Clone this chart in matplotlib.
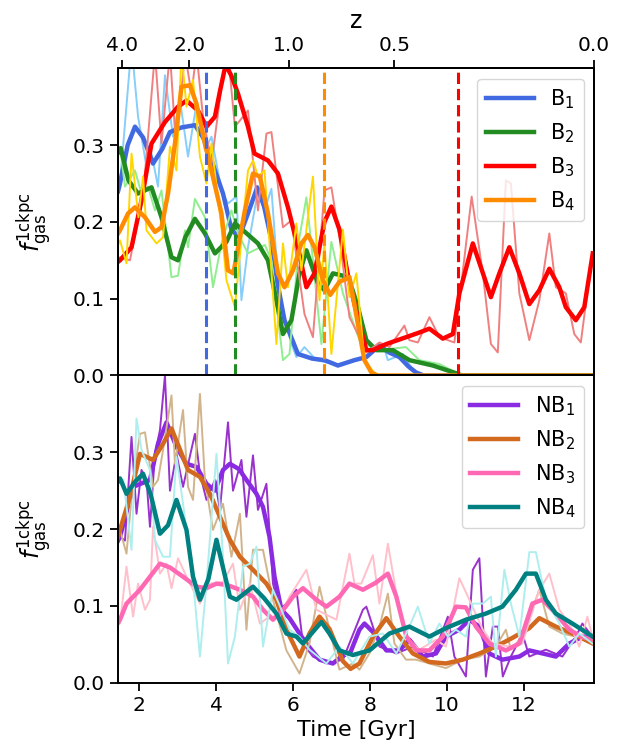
import numpy as np
import matplotlib
matplotlib.use("Agg")
import matplotlib.pyplot as plt

# ---- time axis / cosmology (flat LCDM) for the redshift ticks ----
H0 = 67.7
OM = 0.307
Z_TICKS = [4.0, 2.0, 1.0, 0.5, 0.0]


def age_gyr(z):
    ol = 1.0 - OM
    t_h = 977.8 / H0
    x = np.sqrt(ol / OM) * (1.0 + np.asarray(z)) ** -1.5
    return t_h * 2.0 / (3.0 * np.sqrt(ol)) * np.arcsinh(x)


# ---- barred galaxies: raw (thin) ----
b1_raw_t = [1.45, 1.50, 1.80, 1.97, 2.19, 2.32, 2.49, 2.67, 2.88, 3.06, 3.27, 3.49, 3.71,
            3.88, 4.14, 4.31, 4.53, 4.66, 4.83, 5.09, 5.26, 5.44, 5.65, 5.96, 6.09, 6.30,
            6.61, 7.21, 7.91, 8.34, 8.47, 8.86, 9.12, 9.30, 13.8]
b1_raw_v = [0.24, 0.25, 0.43, 0.337, 0.272, 0.289, 0.246, 0.391, 0.311, 0.359, 0.285, 0.354,
            0.293, 0.311, 0.241, 0.224, 0.233, 0.098, 0.167, 0.241, 0.215, 0.243, 0.098,
            0.041, 0.024, 0.037, 0.020, 0.013, 0.024, 0.041, 0.020, 0.028, 0.007, 0.0, 0.0]

b2_raw_t = [1.45, 1.50, 1.63, 1.89, 2.06, 2.23, 2.41, 2.58, 2.84, 3.01, 3.19, 3.27, 3.45,
            3.71, 3.92, 4.14, 4.40, 4.57, 4.83, 5.27, 5.44, 5.74, 5.91, 6.17, 6.35, 6.52,
            6.74, 7.00, 7.30, 7.73, 8.17, 8.60, 8.94, 9.29, 9.81, 10.24, 10.40, 13.8]
b2_raw_v = [0.29, 0.298, 0.246, 0.267, 0.237, 0.246, 0.215, 0.241, 0.128, 0.130, 0.189,
            0.167, 0.230, 0.206, 0.115, 0.172, 0.215, 0.185, 0.159, 0.170, 0.150, 0.020,
            0.028, 0.180, 0.232, 0.150, 0.041, 0.174, 0.107, 0.046, 0.033, 0.035, 0.037,
            0.020, 0.015, 0.004, 0.0, 0.0]

b3_raw_t = [1.45, 1.50, 1.76, 1.98, 2.15, 2.41, 2.58, 2.80, 2.93, 3.06, 3.19, 3.36, 3.49,
            3.66, 3.88, 4.14, 4.31, 4.49, 4.83, 5.09, 5.31, 5.44, 5.74, 5.96, 6.30, 6.52,
            6.82, 7.00, 7.21, 7.47, 7.73, 7.91, 8.25, 8.51, 8.90, 9.03, 9.25, 9.55, 9.81,
            10.20, 10.33, 10.65, 10.94, 11.15, 11.33, 11.54, 11.67, 11.89, 12.15, 12.41,
            12.67, 12.84, 13.10, 13.32, 13.49, 13.79]
b3_raw_v = [0.15, 0.154, 0.150, 0.206, 0.263, 0.42, 0.302, 0.42, 0.319, 0.350, 0.42, 0.367,
            0.42, 0.337, 0.276, 0.376, 0.42, 0.324, 0.345, 0.215, 0.315, 0.317, 0.193, 0.202,
            0.080, 0.050, 0.241, 0.245, 0.180, 0.076, 0.050, 0.030, 0.043, 0.037, 0.065,
            0.046, 0.043, 0.076, 0.050, 0.043, 0.098, 0.233, 0.133, 0.041, 0.030, 0.254,
            0.250, 0.107, 0.046, 0.098, 0.185, 0.115, 0.107, 0.054, 0.043, 0.159]

b4_raw_t = [1.45, 1.50, 1.67, 1.80, 1.98, 2.10, 2.19, 2.45, 2.62, 2.80, 2.97, 3.10, 3.23,
            3.40, 3.58, 3.75, 3.88, 4.14, 4.27, 4.49, 4.83, 4.96, 5.09, 5.26, 5.57, 5.74,
            5.87, 6.09, 6.22, 6.52, 6.69, 6.82, 7.00, 7.30, 7.47, 7.65, 7.86, 8.17, 13.8]
b4_raw_v = [0.17, 0.176, 0.146, 0.289, 0.206, 0.259, 0.189, 0.172, 0.180, 0.298, 0.267,
            0.42, 0.350, 0.385, 0.285, 0.250, 0.302, 0.193, 0.124, 0.089, 0.267, 0.280,
            0.259, 0.267, 0.041, 0.172, 0.115, 0.198, 0.137, 0.259, 0.098, 0.172, 0.028,
            0.190, 0.102, 0.133, 0.020, 0.0, 0.0]

# ---- barred galaxies: smoothed (thick) ----
b1_t = [1.45, 1.50, 1.70, 1.89, 2.10, 2.36, 2.60, 2.80, 3.10, 3.45, 3.66, 3.75, 3.95, 4.18,
        4.40, 4.60, 4.83, 5.07, 5.25, 5.44, 5.60, 5.78, 6.13, 6.50, 6.82, 7.17, 7.60, 7.91,
        8.25, 8.50, 8.77, 9.00, 9.20, 9.40, 13.8]
b1_v = [0.24, 0.25, 0.30, 0.324, 0.31, 0.276, 0.295, 0.317, 0.323, 0.326, 0.31, 0.30, 0.27,
        0.237, 0.19, 0.18, 0.211, 0.245, 0.22, 0.176, 0.12, 0.072, 0.028, 0.022, 0.02,
        0.013, 0.02, 0.024, 0.039, 0.03, 0.024, 0.012, 0.004, 0.0, 0.0]

b2_t = [1.45, 1.52, 1.72, 1.97, 2.32, 2.58, 2.84, 3.01, 3.20, 3.45, 3.71, 3.97, 4.27, 4.49,
        4.75, 5.09, 5.35, 5.57, 5.74, 5.96, 6.17, 6.35, 6.65, 6.82, 7.04, 7.30, 7.47, 7.69,
        7.91, 8.17, 8.60, 9.03, 9.64, 10.24, 10.40, 13.8]
b2_v = [0.29, 0.296, 0.254, 0.237, 0.245, 0.206, 0.154, 0.150, 0.18, 0.204, 0.185, 0.159,
        0.174, 0.198, 0.187, 0.172, 0.15, 0.098, 0.054, 0.072, 0.133, 0.163, 0.12, 0.111,
        0.133, 0.13, 0.124, 0.089, 0.046, 0.033, 0.033, 0.02, 0.013, 0.003, 0.0, 0.0]

b3_t = [1.45, 1.50, 1.80, 2.06, 2.32, 2.67, 3.01, 3.23, 3.53, 3.75, 3.97, 4.10, 4.25, 4.40,
        4.57, 4.83, 5.00, 5.35, 5.61, 5.87, 6.13, 6.35, 6.56, 6.82, 7.00, 7.21, 7.47, 7.73,
        7.91, 8.08, 8.43, 8.95, 9.29, 9.55, 9.90, 10.16, 10.33, 10.68, 10.89, 11.15, 11.37,
        11.63, 11.89, 12.15, 12.41, 12.67, 12.93, 13.10, 13.36, 13.58, 13.8]
b3_v = [0.148, 0.15, 0.167, 0.228, 0.302, 0.33, 0.35, 0.358, 0.345, 0.324, 0.337, 0.37,
        0.405, 0.39, 0.367, 0.324, 0.289, 0.28, 0.263, 0.219, 0.167, 0.115, 0.133, 0.200,
        0.22, 0.19, 0.12, 0.067, 0.033, 0.033, 0.041, 0.05, 0.056, 0.061, 0.048, 0.054,
        0.107, 0.172, 0.141, 0.102, 0.133, 0.167, 0.133, 0.093, 0.111, 0.139, 0.115, 0.089,
        0.072, 0.089, 0.159]

b4_t = [1.45, 1.50, 1.71, 1.89, 2.15, 2.41, 2.58, 2.75, 2.93, 3.10, 3.32, 3.49, 3.71, 3.88,
        4.14, 4.31, 4.45, 4.75, 4.96, 5.14, 5.35, 5.61, 5.78, 6.00, 6.22, 6.39, 6.56, 6.78,
        6.97, 7.21, 7.47, 7.69, 7.86, 8.04, 8.20, 13.8]
b4_v = [0.185, 0.189, 0.211, 0.219, 0.206, 0.187, 0.193, 0.237, 0.302, 0.376, 0.378, 0.354,
        0.302, 0.267, 0.211, 0.137, 0.133, 0.215, 0.263, 0.259, 0.211, 0.133, 0.115, 0.137,
        0.172, 0.183, 0.167, 0.124, 0.105, 0.122, 0.128, 0.067, 0.02, 0.004, 0.0, 0.0]

# ---- non-barred galaxies: raw (thin) ----
nb1_raw_t = [1.45, 1.50, 1.63, 1.80, 1.93, 2.06, 2.19, 2.28, 2.41, 2.54, 2.67, 2.80, 2.97,
             3.14, 3.45, 3.58, 3.75, 3.97, 4.10, 4.31, 4.44, 4.66, 4.79, 4.96, 5.09, 5.31,
             5.48, 5.65, 5.83, 6.09, 6.26, 6.52, 6.87, 7.30, 7.82, 7.91, 8.25, 8.69, 9.12,
             9.64, 10.03, 10.20, 10.50, 10.68, 10.85, 11.02, 11.20, 11.33, 11.46, 11.67,
             11.97, 12.15, 12.58, 13.01, 13.36, 13.53, 13.79]
nb1_raw_v = [0.185, 0.190, 0.185, 0.320, 0.220, 0.277, 0.264, 0.203, 0.298, 0.329, 0.40,
             0.250, 0.298, 0.255, 0.324, 0.272, 0.238, 0.264, 0.225, 0.339, 0.250, 0.290,
             0.216, 0.296, 0.225, 0.259, 0.129, 0.095, 0.103, 0.121, 0.051, 0.034, 0.025,
             0.030, 0.095, 0.099, 0.047, 0.038, 0.047, 0.034, 0.086, 0.034, 0.008, 0.147,
             0.162, 0.008, 0.073, 0.073, 0.008, 0.034, 0.064, 0.034, 0.043, 0.034, 0.060,
             0.077, 0.060]

nb2_raw_t = [1.45, 1.50, 1.67, 1.84, 2.02, 2.15, 2.36, 2.49, 2.62, 2.84, 2.93, 3.14, 3.27,
             3.40, 3.58, 3.71, 3.92, 4.18, 4.40, 4.62, 4.79, 4.96, 5.22, 5.48, 5.83, 6.17,
             6.43, 6.69, 6.95, 7.21, 7.56, 7.73, 7.99, 8.25, 8.47, 8.64, 8.94, 9.20, 9.55,
             9.98, 10.42, 10.85, 11.28, 11.54, 11.67, 11.97, 12.41, 12.67, 13.01, 13.36, 13.79]
nb2_raw_v = [0.20, 0.199, 0.168, 0.264, 0.324, 0.326, 0.255, 0.264, 0.303, 0.374, 0.285,
             0.355, 0.255, 0.238, 0.376, 0.264, 0.199, 0.233, 0.164, 0.220, 0.069, 0.173,
             0.173, 0.108, 0.042, 0.012, 0.051, 0.125, 0.069, 0.017, 0.025, 0.017, 0.038,
             0.073, 0.116, 0.051, 0.030, 0.030, 0.025, 0.019, 0.030, 0.034, 0.047, 0.069,
             0.043, 0.060, 0.121, 0.073, 0.064, 0.060, 0.051]

nb3_raw_t = [1.45, 1.50, 1.67, 1.84, 1.97, 2.15, 2.28, 2.36, 2.54, 2.71, 2.84, 3.01, 3.23,
             3.58, 3.84, 4.18, 4.44, 4.62, 4.88, 5.14, 5.39, 5.65, 5.91, 6.35, 6.61, 7.13,
             7.47, 7.60, 7.78, 8.08, 8.25, 8.47, 8.69, 8.94, 9.29, 9.72, 9.98, 10.33, 10.59,
             10.94, 11.20, 11.63, 11.97, 12.41, 12.67, 12.93, 13.19, 13.45, 13.66, 13.79]
nb3_raw_v = [0.08, 0.077, 0.151, 0.086, 0.129, 0.095, 0.108, 0.203, 0.142, 0.155, 0.123,
             0.162, 0.138, 0.103, 0.129, 0.131, 0.155, 0.095, 0.129, 0.077, 0.086, 0.086,
             0.112, 0.147, 0.095, 0.082, 0.168, 0.129, 0.129, 0.166, 0.103, 0.181, 0.116,
             0.060, 0.043, 0.056, 0.047, 0.136, 0.108, 0.069, 0.051, 0.047, 0.051, 0.121,
             0.142, 0.095, 0.077, 0.047, 0.086, 0.060]

nb4_raw_t = [1.45, 1.50, 1.59, 1.80, 1.93, 2.06, 2.28, 2.41, 2.62, 2.80, 2.97, 3.14, 3.40,
             3.58, 3.75, 4.01, 4.18, 4.31, 4.49, 4.70, 4.88, 5.05, 5.22, 5.48, 5.70, 5.91,
             6.17, 6.43, 6.87, 7.21, 7.56, 7.99, 8.34, 8.69, 9.03, 9.25, 9.55, 9.81, 10.03,
             10.24, 10.50, 10.68, 10.94, 11.15, 11.28, 11.50, 11.67, 11.89, 12.15, 12.32,
             12.58, 12.93, 13.19, 13.45, 13.79]
nb4_raw_v = [0.26, 0.264, 0.264, 0.173, 0.344, 0.303, 0.277, 0.186, 0.164, 0.164, 0.294,
             0.233, 0.134, 0.034, 0.129, 0.298, 0.164, 0.025, 0.060, 0.151, 0.155, 0.177,
             0.047, 0.121, 0.095, 0.069, 0.060, 0.043, 0.025, 0.047, 0.025, 0.060, 0.064,
             0.038, 0.073, 0.099, 0.051, 0.077, 0.060, 0.069, 0.060, 0.103, 0.103, 0.112,
             0.034, 0.147, 0.103, 0.060, 0.170, 0.170, 0.108, 0.077, 0.047, 0.064, 0.051]

# ---- non-barred galaxies: smoothed (thick) ----
nb1_t = [1.45, 1.50, 1.84, 2.28, 2.49, 2.71, 2.97, 3.23, 3.49, 3.75, 3.97, 4.18, 4.36, 4.60,
         4.79, 5.05, 5.22, 5.39, 5.52, 5.70, 5.91, 6.17, 6.35, 6.69, 7.04, 7.26, 7.50, 7.73,
         7.86, 8.12, 8.43, 8.77, 9.03, 9.38, 9.72, 9.98, 10.33, 10.59, 10.85, 11.11, 11.45,
         11.89, 12.15, 12.50, 12.84, 13.19, 13.53, 13.8]
nb1_v = [0.185, 0.19, 0.255, 0.264, 0.311, 0.339, 0.307, 0.285, 0.281, 0.259, 0.25, 0.277,
         0.285, 0.278, 0.264, 0.246, 0.229, 0.19, 0.138, 0.095, 0.084, 0.064, 0.051, 0.03,
         0.025, 0.034, 0.04, 0.069, 0.077, 0.064, 0.042, 0.042, 0.056, 0.034, 0.038, 0.06,
         0.069, 0.082, 0.073, 0.038, 0.03, 0.034, 0.042, 0.038, 0.034, 0.051, 0.06, 0.06]

nb2_t = [1.45, 1.50, 1.76, 2.02, 2.36, 2.62, 2.84, 3.05, 3.27, 3.58, 3.84, 4.10, 4.36, 4.62,
         4.96, 5.31, 5.57, 5.83, 6.17, 6.43, 6.69, 6.95, 7.30, 7.50, 7.73, 8.08, 8.43, 8.77,
         9.12, 9.55, 9.98, 10.42, 10.85, 11.28, 11.70, 12.15, 12.41, 12.84, 13.27, 13.8]
nb2_v = [0.19, 0.199, 0.242, 0.298, 0.29, 0.311, 0.331, 0.305, 0.277, 0.268, 0.246, 0.216,
         0.186, 0.164, 0.147, 0.129, 0.108, 0.069, 0.034, 0.064, 0.086, 0.07, 0.028, 0.018,
         0.025, 0.06, 0.084, 0.06, 0.038, 0.027, 0.025, 0.03, 0.038, 0.047, 0.058, 0.071,
         0.084, 0.073, 0.064, 0.051]

nb3_t = [1.45, 1.50, 1.67, 2.02, 2.28, 2.54, 2.80, 3.14, 3.49, 3.75, 4.01, 4.30, 4.62, 4.96,
         5.22, 5.48, 5.75, 6.00, 6.26, 6.61, 6.87, 7.21, 7.47, 7.82, 8.15, 8.47, 8.69, 8.95,
         9.21, 9.55, 9.90, 10.24, 10.50, 10.76, 11.11, 11.54, 11.89, 12.23, 12.49, 12.84,
         13.19, 13.50, 13.8]
nb3_v = [0.078, 0.082, 0.103, 0.121, 0.138, 0.155, 0.15, 0.138, 0.125, 0.123, 0.129, 0.127,
         0.121, 0.112, 0.095, 0.082, 0.095, 0.112, 0.123, 0.108, 0.099, 0.112, 0.129, 0.121,
         0.13, 0.142, 0.112, 0.06, 0.042, 0.042, 0.06, 0.099, 0.098, 0.073, 0.051, 0.042,
         0.051, 0.103, 0.108, 0.09, 0.069, 0.06, 0.056]

nb4_t = [1.45, 1.50, 1.67, 1.90, 2.10, 2.30, 2.54, 2.75, 2.97, 3.23, 3.40, 3.58, 3.80, 4.01,
         4.18, 4.36, 4.53, 4.96, 5.25, 5.57, 5.83, 6.09, 6.26, 6.50, 6.74, 6.95, 7.21, 7.56,
         7.99, 8.51, 9.03, 9.55, 9.98, 10.50, 11.02, 11.45, 11.80, 12.06, 12.32, 12.58,
         12.84, 13.27, 13.8]
nb4_v = [0.262, 0.266, 0.246, 0.262, 0.272, 0.245, 0.194, 0.205, 0.238, 0.199, 0.138, 0.108,
         0.135, 0.186, 0.15, 0.112, 0.108, 0.125, 0.11, 0.09, 0.064, 0.06, 0.051, 0.065,
         0.079, 0.064, 0.042, 0.036, 0.042, 0.064, 0.073, 0.06, 0.071, 0.082, 0.09, 0.099,
         0.121, 0.142, 0.142, 0.108, 0.09, 0.077, 0.06]

# bar formation time of B1..B4 (dashed lines)
bar_times = [3.75, 4.50, 10.30, 6.82]

top_sets = [
    (r"B$_1$", b1_raw_t, b1_raw_v, b1_t, b1_v, "lightskyblue", "royalblue"),
    (r"B$_2$", b2_raw_t, b2_raw_v, b2_t, b2_v, "lightgreen", "forestgreen"),
    (r"B$_3$", b3_raw_t, b3_raw_v, b3_t, b3_v, "lightcoral", "red"),
    (r"B$_4$", b4_raw_t, b4_raw_v, b4_t, b4_v, "gold", "darkorange"),
    ]
bot_sets = [
    (r"NB$_1$", nb1_raw_t, nb1_raw_v, nb1_t, nb1_v, "darkorchid", "blueviolet"),
    (r"NB$_2$", nb2_raw_t, nb2_raw_v, nb2_t, nb2_v, "tan", "chocolate"),
    (r"NB$_3$", nb3_raw_t, nb3_raw_v, nb3_t, nb3_v, "pink", "hotpink"),
    (r"NB$_4$", nb4_raw_t, nb4_raw_v, nb4_t, nb4_v, "paleturquoise", "teal"),
    ]

plt.rcParams["font.family"] = ["DejaVu Sans"]
plt.rcParams["axes.linewidth"] = 1.4

fig = plt.figure(figsize=(6.28, 7.55), dpi=100)
gs = fig.add_gridspec(2, 1, hspace=0.0, left=0.188, right=0.946,
                      bottom=0.0958, top=0.9095)
ax_top = fig.add_subplot(gs[0, 0])
ax_bot = fig.add_subplot(gs[1, 0], sharex=ax_top)

t_end = float(age_gyr(0.0))
ylab = r"$f_{\rm gas}^{\rm 1ckpc}$"


def draw_panel(ax, sets):
    handles = []
    for name, rt, rv, st, sv, c_raw, c_s in sets:
        ax.plot(rt, rv, color=c_raw, lw=1.4)
        h, = ax.plot(st, sv, color=c_s, lw=3.2, label=name)
        handles.append(h)
    ax.set_ylim(0, 0.4)
    ax.set_ylabel(ylab, fontsize=17)
    ax.yaxis.set_label_coords(-0.135, 0.5)
    ax.tick_params(axis="both", labelsize=14.5, length=6, width=1.3)
    leg = ax.legend(handles=handles, loc="upper right", fontsize=15,
                    handlelength=2.3)
    return leg


draw_panel(ax_top, top_sets)
for tb, (_, _, _, _, _, _, c) in zip(bar_times, top_sets):
    ax_top.axvline(tb, color=c, lw=2.2, ls="--")
draw_panel(ax_bot, bot_sets)

ax_top.set_yticks([0.0, 0.1, 0.2, 0.3])
ax_bot.set_yticks([0.0, 0.1, 0.2, 0.3])
ax_top.tick_params(axis="x", bottom=False, labelbottom=False)
ax_bot.set_xlim(1.45, t_end)
ax_bot.set_xticks([2, 4, 6, 8, 10, 12])
ax_bot.set_xlabel("Time [Gyr]", fontsize=16)

ax_z = ax_top.twiny()
ax_z.set_xlim(ax_top.get_xlim())
ax_z.set_xticks(age_gyr(np.array(Z_TICKS)))
ax_z.set_xticklabels([f"{z:.1f}" for z in Z_TICKS])
ax_z.tick_params(axis="x", labelsize=14.5, length=6, width=1.3)
ax_z.set_xlabel("z", fontsize=17, labelpad=6)

fig.savefig("out.png", dpi=100)
